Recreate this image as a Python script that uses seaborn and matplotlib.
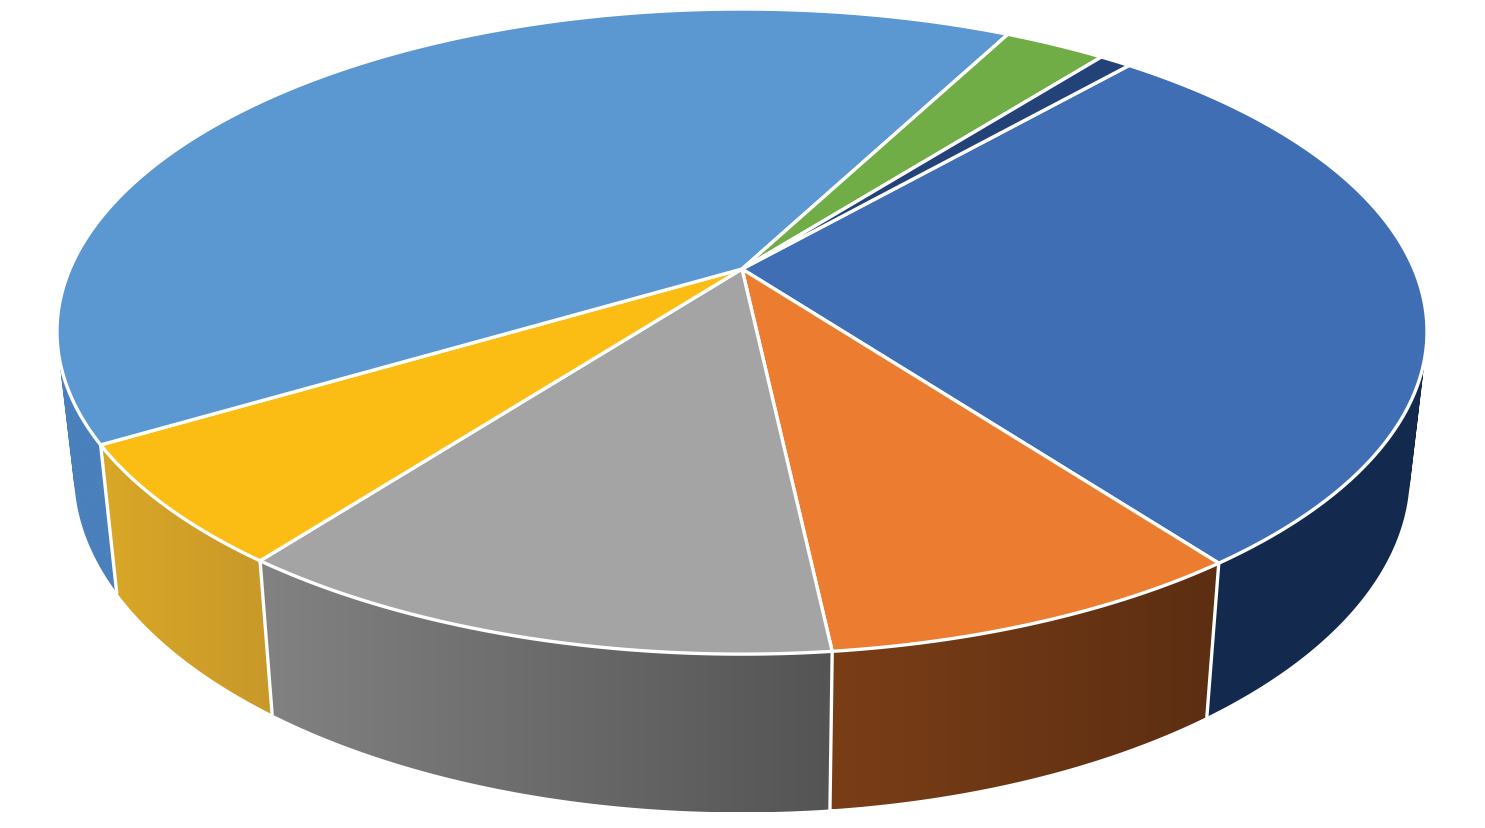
import numpy as np
import matplotlib
matplotlib.use('Agg')
import matplotlib.pyplot as plt
from matplotlib.patches import PathPatch
from matplotlib.path import Path
import seaborn as sns

# shares in percent, clockwise
labels = ['blue', 'orange', 'gray', 'yellow', 'light blue', 'green', 'navy']
shares = [28.3, 8.5, 12.1, 6.1, 41.2, 2.9, 0.9]
top_colors = ['#3F6EB5', '#EC7C30', '#A3A4A3', '#FBBD14', '#5B97D1', '#70AD47', '#234278']
# wall shading, left end to right end on the picture
wall_left = ['#132A4E', '#7A3E17', '#828282', '#D9A826', '#4A80BC', '#4A7530', '#1A2E50']
wall_right = ['#132A4E', '#5C2E12', '#545454', '#C8982A', '#4A80BC', '#4A7530', '#1A2E50']

start_angle = 41.3

# projection of the disc, in picture pixels
cx, cy = 742, 270
semi_x, semi_y, tilt = 672, 310.4, 0.194
wall_shrink, wall_stretch, wall_drop = 0.975, 1.05, 139


def top_edge(theta):
    """Point on the rim of the top face, theta clockwise from the back"""
    t = np.radians(theta)
    w = 1 + tilt * np.cos(t)
    return cx + semi_x * np.sin(t) / w, cy - semi_y * np.cos(t) / w


def bottom_edge(theta):
    x, y = top_edge(theta)
    return cx + wall_shrink * (x - cx), cy - (wall_stretch * (cy - y) - wall_drop)


def wall_path(a, b):
    """Wall as many small quads, all wound the same way so they never cancel"""
    t = np.linspace(a, b, 300)
    x1, y1 = top_edge(t)
    x2, y2 = bottom_edge(t)
    quads = []
    for j in range(len(t) - 1):
        q = np.array([[x1[j], y1[j]], [x1[j + 1], y1[j + 1]], [x2[j + 1], y2[j + 1]], [x2[j], y2[j]]])
        area = np.sum(q[:, 0] * np.roll(q[:, 1], -1) - np.roll(q[:, 0], -1) * q[:, 1])
        if area < 0:
            q = q[::-1]
        quads.append(Path(np.vstack([q, q[:1]]), closed=True))
    return Path.make_compound_path(*quads)


sns.set_theme(style='white')
fig, ax = plt.subplots(figsize=(14.85, 8.29), dpi=100)
fig.subplots_adjust(left=0, right=1, bottom=0, top=1)
ax.axis('off')

edges = start_angle + np.cumsum([0] + shares) * 3.6

# walls first, the top face covers whatever is behind it
for i in range(len(shares)):
    a, b = max(edges[i], 41), min(edges[i + 1], 300)
    if a >= b:
        continue
    wall = PathPatch(wall_path(a, b), transform=ax.transData, facecolor='none', edgecolor='none')
    ax.add_patch(wall)
    # horizontal shading between the two ends of this slice
    ramp = np.array(sns.blend_palette([wall_left[i], wall_right[i]], 256))[None, :, :]
    box = wall.get_path().get_extents()
    im = ax.imshow(ramp, extent=(box.x0, box.x1, box.y1, box.y0), aspect='auto',
                   interpolation='bilinear', zorder=1)
    im.set_clip_path(wall)

ax.set_xlim(0, 1485)
ax.set_ylim(829, 0)

# white seams between the walls
for e in edges:
    if 90 < e % 360 < 270:
        x1, y1 = top_edge(e)
        x2, y2 = bottom_edge(e)
        ax.plot([x1, x2], [y1, y2], color='white', lw=2.4, zorder=2)

# top face
for i in range(len(shares)):
    t = np.linspace(edges[i], edges[i + 1], 200)
    x, y = top_edge(t)
    ax.fill(np.r_[cx, x], np.r_[cy, y], facecolor=top_colors[i], edgecolor='white',
            lw=2.4, joinstyle='round', zorder=3)

fig.savefig('out.png', dpi=100, facecolor='white')
